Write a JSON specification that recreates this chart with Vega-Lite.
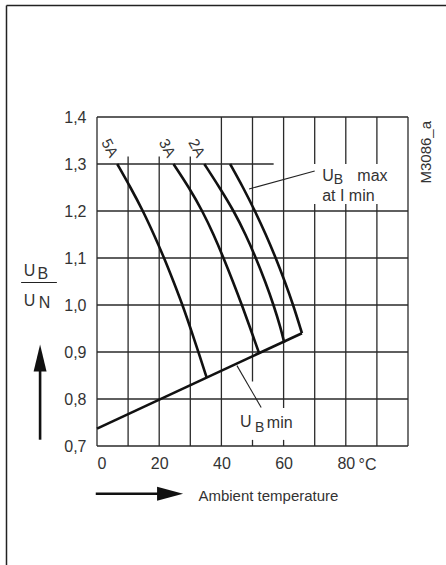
{
  "$schema": "https://vega.github.io/schema/vega-lite/v6.json",
  "autosize": "none",
  "width": 311,
  "height": 329,
  "padding": {"left": 97, "top": 117, "right": 38, "bottom": 119},
  "background": "white",
  "config": {"view": {"stroke": null}, "font": "Liberation Sans, Arial, sans-serif", "text": {"font": "Liberation Sans, Arial, sans-serif"}},
  "datasets": {
    "vgrid": [
      {"x": 0, "y": 0.7, "y2": 1.4},
      {"x": 10, "y": 0.7, "y2": 1.316},
      {"x": 20, "y": 0.7, "y2": 1.316},
      {"x": 30, "y": 0.7, "y2": 1.316},
      {"x": 40, "y": 0.7, "y2": 1.4},
      {"x": 50, "y": 0.837, "y2": 1.4},
      {"x": 50, "y": 0.7, "y2": 0.713},
      {"x": 60, "y": 0.781, "y2": 1.4},
      {"x": 60, "y": 0.7, "y2": 0.713},
      {"x": 70, "y": 0.7, "y2": 1.215},
      {"x": 70, "y": 1.3, "y2": 1.4},
      {"x": 80, "y": 0.7, "y2": 1.215},
      {"x": 80, "y": 1.3, "y2": 1.4},
      {"x": 90, "y": 0.7, "y2": 1.215},
      {"x": 90, "y": 1.3, "y2": 1.4},
      {"x": 100, "y": 0.7, "y2": 1.4}
    ],
    "hgrid": [
      {"x": 0, "x2": 100, "y": 0.7},
      {"x": 0, "x2": 100, "y": 0.8},
      {"x": 0, "x2": 100, "y": 0.9},
      {"x": 0, "x2": 100, "y": 1.0},
      {"x": 0, "x2": 100, "y": 1.1},
      {"x": 0, "x2": 100, "y": 1.2},
      {"x": 0, "x2": 56.8, "y": 1.3},
      {"x": 0, "x2": 100, "y": 1.4}
    ],
    "curves": [
      {"curve": "5A", "i": 1, "x": 6.5, "y": 1.3},
      {"curve": "5A", "i": 2, "x": 10.8, "y": 1.25},
      {"curve": "5A", "i": 3, "x": 14.8, "y": 1.2},
      {"curve": "5A", "i": 4, "x": 18.3, "y": 1.15},
      {"curve": "5A", "i": 5, "x": 21.6, "y": 1.1},
      {"curve": "5A", "i": 6, "x": 24.6, "y": 1.05},
      {"curve": "5A", "i": 7, "x": 27.5, "y": 1.0},
      {"curve": "5A", "i": 8, "x": 30.1, "y": 0.95},
      {"curve": "5A", "i": 9, "x": 32.6, "y": 0.9},
      {"curve": "5A", "i": 10, "x": 35.3, "y": 0.845},
      {"curve": "3A", "i": 1, "x": 24.6, "y": 1.3},
      {"curve": "3A", "i": 2, "x": 29.6, "y": 1.25},
      {"curve": "3A", "i": 3, "x": 33.9, "y": 1.2},
      {"curve": "3A", "i": 4, "x": 37.5, "y": 1.15},
      {"curve": "3A", "i": 5, "x": 40.7, "y": 1.1},
      {"curve": "3A", "i": 6, "x": 43.7, "y": 1.05},
      {"curve": "3A", "i": 7, "x": 46.6, "y": 1.0},
      {"curve": "3A", "i": 8, "x": 49.3, "y": 0.95},
      {"curve": "3A", "i": 9, "x": 52.2, "y": 0.896},
      {"curve": "2A", "i": 1, "x": 34.5, "y": 1.3},
      {"curve": "2A", "i": 2, "x": 39.4, "y": 1.25},
      {"curve": "2A", "i": 3, "x": 44.0, "y": 1.2},
      {"curve": "2A", "i": 4, "x": 47.8, "y": 1.15},
      {"curve": "2A", "i": 5, "x": 51.1, "y": 1.1},
      {"curve": "2A", "i": 6, "x": 54.1, "y": 1.05},
      {"curve": "2A", "i": 7, "x": 56.8, "y": 1.0},
      {"curve": "2A", "i": 8, "x": 59.1, "y": 0.95},
      {"curve": "2A", "i": 9, "x": 60.2, "y": 0.92},
      {"curve": "max", "i": 1, "x": 42.8, "y": 1.3},
      {"curve": "max", "i": 2, "x": 47.0, "y": 1.25},
      {"curve": "max", "i": 3, "x": 50.8, "y": 1.2},
      {"curve": "max", "i": 4, "x": 54.3, "y": 1.15},
      {"curve": "max", "i": 5, "x": 57.5, "y": 1.1},
      {"curve": "max", "i": 6, "x": 60.4, "y": 1.05},
      {"curve": "max", "i": 7, "x": 63.1, "y": 1.0},
      {"curve": "max", "i": 8, "x": 65.9, "y": 0.94}
    ],
    "minline": [
      {"x": 0, "y": 0.737},
      {"x": 65.9, "y": 0.94}
    ],
    "thick": [
      {"x": -18.3, "y": 0.7134, "x2": -18.3, "y2": 0.87},
      {"x": -0.4, "y": 0.5985, "x2": 20, "y2": 0.5985}
    ],
    "thin": [
      {"x": 48.9, "y": 1.247, "x2": 70, "y2": 1.285},
      {"x": 45, "y": 0.871, "x2": 52.8, "y2": 0.782},
      {"x": -24.4, "y": 1.048, "x2": -12.9, "y2": 1.048}
    ],
    "frame": [
      {"x": -29.1, "y": 0.4, "x2": -29.1, "y2": 1.637},
      {"x": -29.1, "y": 1.637, "x2": 125, "y2": 1.637}
    ],
    "headUp": [{"x": -18.3, "y": 0.887}],
    "headRight": [{"x": 23.5, "y": 0.5985}],
    "curveLabels": [
      {"x": 4.1, "y": 1.334, "t": "5A"},
      {"x": 22.6, "y": 1.334, "t": "3A"},
      {"x": 32.1, "y": 1.334, "t": "2A"}
    ],
    "leftTexts": [
      {"x": 72.4, "y": 1.2745, "t": "U"},
      {"x": 83.7, "y": 1.2745, "t": "max"},
      {"x": 72.4, "y": 1.2315, "t": "at I min"},
      {"x": 46.0, "y": 0.7506, "t": "U"},
      {"x": 54.6, "y": 0.749, "t": "min"},
      {"x": 84.1, "y": 0.66, "t": "°C"}
    ],
    "subs": [
      {"x": 76.1, "y": 1.2655, "t": "B"},
      {"x": 50.8, "y": 0.738, "t": "B"}
    ],
    "title": [
      {"x": 32.6, "y": 0.593, "t": "Ambient temperature"}
    ],
    "centerTexts": [
      {"x": -21.7, "y": 1.0715, "t": "U"},
      {"x": -17.4, "y": 1.0666, "t": "B"},
      {"x": -21.7, "y": 1.009, "t": "U"},
      {"x": -16.9, "y": 1.004, "t": "N"}
    ],
    "code": [{"x": 105.9, "y": 1.325, "t": "M3086_a"}]
  },
  "encoding": {
    "x": {"field": "x", "type": "quantitative", "scale": {"domain": [0, 100], "nice": false, "zero": false}},
    "y": {"field": "y", "type": "quantitative", "scale": {"domain": [0.7, 1.4], "nice": false, "zero": false}}
  },
  "layer": [
    {
      "data": {"name": "vgrid"},
      "mark": {"type": "rule", "color": "#2a2a2a", "strokeWidth": 1.3},
      "encoding": {
        "x": {"field": "x", "type": "quantitative", "axis": {"values": [0, 20, 40, 60, 80], "ticks": false, "domain": false, "grid": false, "title": null, "labelFontSize": 16, "labelColor": "#333", "labelPadding": 9, "labelFont": "Liberation Sans, Arial, sans-serif"}},
        "y": {"field": "y", "type": "quantitative", "axis": {"values": [0.7, 0.8, 0.9, 1.0, 1.1, 1.2, 1.3, 1.4], "ticks": false, "domain": false, "grid": false, "title": null, "labelFontSize": 16, "labelColor": "#333", "labelPadding": 11, "labelFont": "Liberation Sans, Arial, sans-serif", "labelExpr": "replace(format(datum.value, '.1f'), '.', ',')"}},
        "y2": {"field": "y2"}
      }
    },
    {
      "data": {"name": "hgrid"},
      "mark": {"type": "rule", "color": "#2a2a2a", "strokeWidth": 1.3},
      "encoding": {"x2": {"field": "x2"}}
    },
    {
      "data": {"name": "minline"},
      "mark": {"type": "line", "color": "#111", "strokeWidth": 2.6},
      "encoding": {}
    },
    {
      "data": {"name": "curves"},
      "mark": {"type": "line", "color": "#111", "strokeWidth": 2.6, "interpolate": "basis"},
      "encoding": {"detail": {"field": "curve"}, "order": {"field": "i", "type": "quantitative"}}
    },
    {
      "data": {"name": "thick"},
      "mark": {"type": "rule", "color": "#111", "strokeWidth": 2.6},
      "encoding": {"x2": {"field": "x2"}, "y2": {"field": "y2"}}
    },
    {
      "data": {"name": "thin"},
      "mark": {"type": "rule", "color": "#222", "strokeWidth": 1.1},
      "encoding": {"x2": {"field": "x2"}, "y2": {"field": "y2"}}
    },
    {
      "data": {"name": "frame"},
      "mark": {"type": "rule", "color": "#222", "strokeWidth": 1.5},
      "encoding": {"x2": {"field": "x2"}, "y2": {"field": "y2"}}
    },
    {
      "data": {"name": "headUp"},
      "mark": {"type": "point", "filled": true, "color": "#111", "opacity": 1, "shape": "M0,-1L0.48,1L-0.48,1Z", "size": 729}
    },
    {
      "data": {"name": "headRight"},
      "mark": {"type": "point", "filled": true, "color": "#111", "opacity": 1, "shape": "M1,0L-1,0.54L-1,-0.54Z", "size": 676}
    },
    {
      "data": {"name": "curveLabels"},
      "mark": {"type": "text", "angle": 62, "fontSize": 15, "color": "#333", "align": "center", "baseline": "middle"},
      "encoding": {"text": {"field": "t"}}
    },
    {
      "data": {"name": "leftTexts"},
      "mark": {"type": "text", "fontSize": 16, "color": "#333", "align": "left", "baseline": "middle"},
      "encoding": {"text": {"field": "t"}}
    },
    {
      "data": {"name": "subs"},
      "mark": {"type": "text", "fontSize": 14, "color": "#333", "align": "left", "baseline": "middle"},
      "encoding": {"text": {"field": "t"}}
    },
    {
      "data": {"name": "title"},
      "mark": {"type": "text", "fontSize": 15, "color": "#333", "align": "left", "baseline": "middle"},
      "encoding": {"text": {"field": "t"}}
    },
    {
      "data": {"name": "centerTexts"},
      "mark": {"type": "text", "fontSize": 16, "color": "#333", "align": "center", "baseline": "middle"},
      "encoding": {"text": {"field": "t"}}
    },
    {
      "data": {"name": "code"},
      "mark": {"type": "text", "fontSize": 15, "color": "#333", "align": "center", "baseline": "middle", "angle": 270},
      "encoding": {"text": {"field": "t"}}
    }
  ]
}
